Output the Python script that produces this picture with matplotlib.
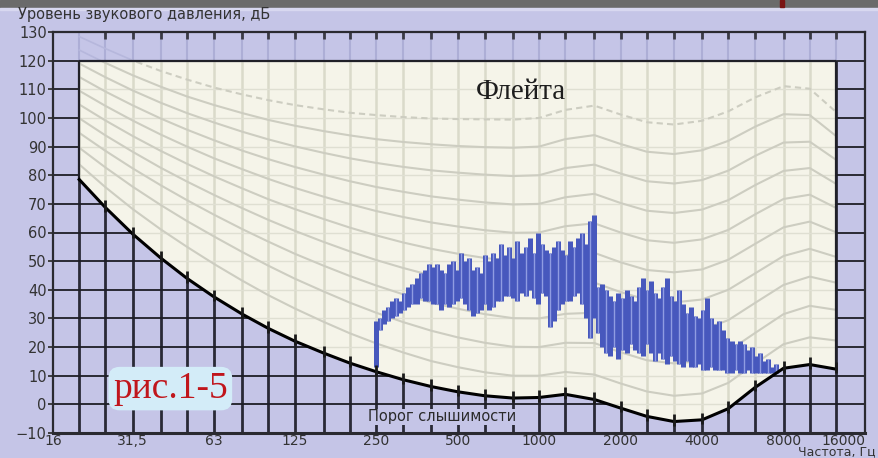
import numpy as np
import matplotlib
matplotlib.use("Agg")
import matplotlib.pyplot as plt
from matplotlib.patches import Rectangle

# 1/3-octave frequencies, Hz
freqs = [20, 25, 31.5, 40, 50, 63, 80, 100, 125, 160, 200, 250, 315, 400, 500, 630,
         800, 1000, 1250, 1600, 2000, 2500, 3150, 4000, 5000, 6300, 8000, 10000, 12500]

# hearing threshold, dB
threshold = [78.5, 68.7, 59.5, 51.1, 44.0, 37.5, 31.5, 26.5, 22.1, 17.9, 14.4, 11.4, 8.6, 6.2,
             4.4, 3.0, 2.2, 2.4, 3.5, 1.7, -1.3, -4.2, -6.0, -5.4, -1.5, 6.0, 12.6, 13.9, 12.3]

# equal-loudness contours, dB (10 ... 100 phon)
phon_levels = [10, 20, 30, 40, 50, 60, 70, 80, 90, 100]
contours = [
    [83.8, 75.8, 68.2, 61.1, 55.0, 49.0, 43.2, 38.1, 33.5, 28.8, 24.8, 21.3, 18.1, 15.1, 13.0,
     11.2, 10.0, 10.0, 11.3, 10.4, 7.3, 4.5, 3.0, 3.8, 7.5, 14.3, 21.0, 23.4, 22.3],
    [89.6, 82.7, 76.0, 69.6, 64.0, 58.6, 53.2, 48.4, 43.9, 39.4, 35.5, 32.0, 28.7, 25.7, 23.4,
     21.5, 20.1, 20.0, 21.5, 21.4, 18.2, 15.4, 14.3, 15.1, 18.6, 25.0, 31.5, 34.4, 33.0],
    [94.8, 88.5, 82.4, 76.5, 71.3, 66.2, 61.2, 56.8, 52.6, 48.4, 44.8, 41.5, 38.4, 35.5, 33.4,
     31.5, 30.1, 30.0, 31.6, 32.0, 28.8, 26.0, 25.0, 26.0, 29.4, 35.5, 41.7, 44.6, 42.5],
    [99.9, 93.9, 88.2, 82.6, 77.8, 73.1, 68.5, 64.4, 60.6, 56.7, 53.4, 50.4, 47.6, 45.0, 43.1,
     41.3, 40.1, 40.0, 41.8, 42.5, 39.2, 36.5, 35.6, 36.6, 40.0, 45.8, 51.8, 54.3, 51.5],
    [104.7, 99.1, 93.7, 88.5, 84.0, 79.6, 75.4, 71.6, 68.2, 64.7, 61.7, 59.0, 56.5, 54.3, 52.6,
     51.1, 50.0, 50.0, 52.0, 52.9, 49.6, 46.9, 46.1, 47.1, 50.5, 56.1, 61.8, 63.8, 60.1],
    [109.5, 104.2, 99.1, 94.2, 90.0, 85.9, 82.1, 78.7, 75.6, 72.5, 69.9, 67.5, 65.4, 63.5, 62.1,
     60.8, 59.9, 60.0, 62.2, 63.2, 60.0, 57.3, 56.4, 57.6, 60.9, 66.4, 71.7, 73.2, 68.6],
    [114.3, 109.2, 104.4, 99.8, 95.9, 92.2, 88.6, 85.6, 82.9, 80.2, 77.9, 75.9, 74.2, 72.6, 71.5,
     70.5, 69.8, 70.0, 72.3, 73.5, 70.3, 67.6, 66.8, 68.0, 71.3, 76.6, 81.5, 82.5, 77.0],
    [119.0, 114.2, 109.6, 105.3, 101.7, 98.4, 95.2, 92.5, 90.1, 87.8, 85.9, 84.3, 82.9, 81.7, 80.9,
     80.2, 79.7, 80.0, 82.5, 83.7, 80.6, 77.9, 77.1, 78.3, 81.6, 86.8, 91.4, 91.7, 85.4],
    [123.7, 119.2, 114.9, 110.9, 107.5, 104.5, 101.7, 99.3, 97.3, 95.4, 93.9, 92.6, 91.6, 90.8, 90.2,
     89.8, 89.6, 90.0, 92.6, 94.0, 90.9, 88.2, 87.4, 88.7, 92.0, 97.0, 101.3, 101.0, 93.7],
    [128.4, 124.2, 120.1, 116.4, 113.4, 110.6, 108.2, 106.2, 104.5, 103.0, 101.8, 101.0, 100.3, 99.8, 99.6,
     99.5, 99.4, 100.0, 102.8, 104.3, 101.2, 98.5, 97.7, 99.0, 102.3, 107.2, 111.1, 110.2, 102.1],
]

# flute spectrum: 100 bins from 250 Hz to 7.5 kHz, low / high level of each bin, dB
flute_f = np.geomspace(250, 7500, 100)
flute_lo = [13, 26, 28, 29, 30, 31, 32, 33, 34, 35, 35, 37, 36, 36, 35, 35, 33, 35, 34, 35,
            36, 37, 35, 33, 31, 32, 33, 35, 33, 34, 36, 36, 38, 38, 37, 36, 39, 38, 40, 37,
            35, 39, 38, 27, 29, 33, 35, 36, 36, 38, 39, 35, 30, 23, 30, 25, 20, 18, 17, 20,
            16, 19, 18, 21, 19, 18, 17, 21, 18, 15, 18, 16, 14, 17, 15, 14, 13, 15, 13, 13,
            14, 12, 12, 13, 12, 12, 12, 11, 11, 12, 11, 11, 12, 11, 11, 11, 11, 11, 11, 11]
flute_hi = [29, 30, 33, 34, 36, 37, 36, 39, 41, 42, 44, 46, 47, 49, 48, 49, 47, 46, 49, 50,
            47, 53, 50, 51, 47, 48, 46, 52, 50, 53, 51, 56, 52, 55, 51, 57, 53, 55, 58, 53,
            60, 56, 54, 53, 55, 57, 54, 52, 57, 55, 58, 60, 56, 64, 66, 41, 42, 40, 38, 36,
            39, 37, 40, 38, 36, 41, 44, 40, 43, 39, 37, 41, 44, 38, 36, 40, 35, 32, 34, 31,
            30, 33, 37, 30, 28, 29, 26, 23, 22, 21, 22, 21, 19, 20, 17, 18, 15, 16, 13, 14]

# axis ticks
third_oct = [16] + freqs + [16000]
x_ticks = [16, 31.5, 63, 125, 250, 500, 1000, 2000, 4000, 8000, 16000]
x_labels = ['16', '31,5', '63', '125', '250', '500', '1000', '2000', '4000', '8000', '16000']
y_ticks = list(range(-10, 131, 10))

PURPLE = '#c5c5e7'
YELLOW = '#f5f4e9'
DARK = '#2a2a36'

fig = plt.figure(figsize=(8.79, 4.58), dpi=100, facecolor=PURPLE)
ax = fig.add_axes([53 / 879, 1 - 433 / 458, 812 / 879, 401 / 458])
ax.set_facecolor(PURPLE)
ax.set_xscale('log')
ax.set_xlim(16, 16000)
ax.set_ylim(-10, 130)

# dark grid in the region outside the audible area
ax.vlines(freqs, -10, 120, color=DARK, lw=2.0, zorder=1)
ax.hlines(range(0, 121, 10), 16, 16000, color='#1e1e26', lw=1.3, zorder=1)
ax.vlines(freqs, 120, 130, color='#adaed6', lw=1.5, zorder=1)
ax.vlines(freqs[1:], 127.5, 130, color='#3a3a44', lw=2.0, zorder=1)
for c in contours:
    ax.plot(freqs, c, color='#b6b7dc', lw=1.2, zorder=1.5)

# audible area
poly = ax.fill(freqs + freqs[::-1], [120] * len(freqs) + threshold[::-1],
               color=YELLOW, lw=0, zorder=2)[0]
vg = ax.vlines(third_oct, -10, 130, color='#dadaca', lw=1.8, zorder=3)
hg = ax.hlines(range(-10, 131, 10), 16, 16000, color='#dfdfd2', lw=1.0, zorder=3)
vg.set_clip_path(poly)
hg.set_clip_path(poly)
for lvl, c in zip(phon_levels, contours):
    ls = (0, (3, 2)) if lvl == 100 else '-'
    ln, = ax.plot(freqs, c, color='#cdcdc1', lw=1.5, ls=ls, zorder=4)
    ln.set_clip_path(poly)

# flute spectrum
ax.vlines(flute_f, flute_lo, flute_hi, color='#4758bd', lw=3.6, zorder=5)
ax.vlines(flute_f[1::2], flute_lo[1::2], flute_hi[1::2], color='#8f9ce2', lw=1.0, zorder=5)

# box edges and threshold
ax.plot([20, 20, 12500, 12500], [threshold[0], 120, 120, threshold[-1]], color='#202028',
        lw=1.6, zorder=6)
ax.plot(freqs, threshold, color='black', lw=2.2, zorder=7)
ax.vlines(freqs[1:], np.array(threshold[1:]) - 1.5, np.array(threshold[1:]) + 2.5,
          color='#1a1a1a', lw=2.0, zorder=7)

for s in ax.spines.values():
    s.set_color('#2a2a30')
    s.set_linewidth(1.6)
    s.set_zorder(8)
ax.spines['bottom'].set_linewidth(2.2)

ax.set_xticks(x_ticks)
ax.set_xticklabels(x_labels)
ax.get_xticklabels()[-1].set_horizontalalignment('right')
ax.xaxis.set_minor_locator(matplotlib.ticker.NullLocator())
ax.tick_params(axis='x', length=0, pad=1, labelsize=10, labelcolor='#333333')
ax.set_yticks(y_ticks)
ax.tick_params(axis='y', length=3.5, width=1.3, pad=1, labelsize=10.5, labelcolor='#333333',
               color='#333333')

ax.text(861, 109, 'Флейта', family='Liberation Serif', fontsize=21, color='#1e1e1e',
        ha='center', va='center', zorder=9)
ax.text(43.4, 5.5, 'рис.1-5', family='Liberation Serif', fontsize=27, color='#c0161c',
        ha='center', va='center', zorder=9,
        bbox=dict(boxstyle='round,pad=0.12,rounding_size=0.3', fc='#d3ecf8', ec='none'))
ax.text(439, -4.4, 'Порог слышимости', fontsize=10.5, color='#2a2a2a', ha='center',
        va='center', zorder=9, bbox=dict(boxstyle='square,pad=0.05', fc=PURPLE, ec='none'))

fig.text(18 / 879, 1 - 15 / 458, 'Уровень звукового давления, дБ', fontsize=10.5,
         color='#333333', va='center', ha='left')
fig.text(876 / 879, 3 / 458, 'Частота, Гц', fontsize=9, color='#333333',
         va='baseline', ha='right')

fig.patches.append(Rectangle((0, 1 - 7 / 458), 1, 7 / 458, transform=fig.transFigure,
                             color='#6b6b6b', zorder=0))
fig.patches.append(Rectangle((780 / 879, 1 - 7 / 458), 4 / 879, 7 / 458,
                             transform=fig.transFigure, color='#7a1414', zorder=1))
fig.patches.append(Rectangle((0, 1 - 10 / 458), 1, 2 / 458, transform=fig.transFigure,
                             color='#d8d8f0', zorder=0))

fig.savefig('out.png', dpi=100, facecolor=PURPLE)
